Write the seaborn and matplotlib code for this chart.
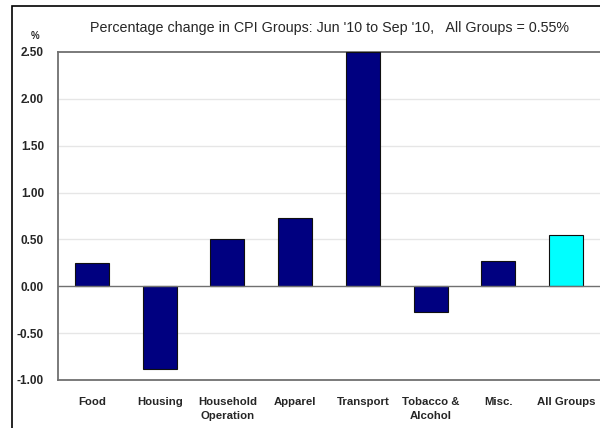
import seaborn as sns
import matplotlib.pyplot as plt
from matplotlib.patches import Rectangle

# data
groups = ["Food", "Housing", "Household\nOperation", "Apparel", "Transport",
          "Tobacco &\nAlcohol", "Misc.", "All Groups"]
change = [0.25, -0.88, 0.50, 0.73, 2.50, -0.27, 0.27, 0.55]
bar_colors = ["#000080"] * 7 + ["#00FFFF"]
yticks = [-1.0, -0.5, 0.0, 0.5, 1.0, 1.5, 2.0, 2.5]

sns.set_style("white")
plt.rcParams['font.family'] = ['Liberation Sans', 'DejaVu Sans']

fig = plt.figure(figsize=(6, 4.28), dpi=100)
ax = fig.add_axes([58 / 600, 1 - 380 / 428, 1.0 - 58 / 600, (380 - 52) / 428])

sns.barplot(x=groups, y=change, hue=groups, palette=bar_colors, legend=False,
            saturation=1, width=0.5, edgecolor="#101010", linewidth=0.8, ax=ax, zorder=3)

ax.set_ylim(-1.0, 2.5)
ax.set_yticks(yticks)
ax.set_yticklabels([f"{v:.2f}" for v in yticks], fontsize=8.5, fontweight="bold")
for v in yticks[1:-1]:
    if v == 0:
        ax.axhline(v, color="#707070", lw=1.0, zorder=4)
    else:
        ax.axhline(v, color="#e6e6e6", lw=1.0, zorder=1)
ax.tick_params(axis="y", length=0, pad=10)
ax.tick_params(axis="x", length=0, pad=12)
for lab in ax.get_xticklabels():
    lab.set_fontsize(8.2)
    lab.set_fontweight("bold")
    lab.set_verticalalignment("top")
    lab.set_linespacing(1.5)
for side in ["left", "bottom", "top"]:
    ax.spines[side].set_color("#707070")
    ax.spines[side].set_linewidth(1.3)
ax.spines["right"].set_visible(False)
ax.set_xlabel("")
ax.set_ylabel("")

fig.text(330 / 600, 1 - 28 / 428, "Percentage change in CPI Groups: Jun '10 to Sep '10,   All Groups = 0.55%",
         ha="center", va="center", fontsize=10.3)
fig.text(35 / 600, 1 - 36 / 428, "%", ha="center", va="center", fontsize=7, fontweight="bold")

# outer chart border (cropped on right and bottom)
fig.patches.append(Rectangle((12 / 600, -0.1), 1.0, 1.1 - 6 / 428, transform=fig.transFigure,
                             fill=False, edgecolor="black", lw=1.2))

fig.savefig("out.png", dpi=100)
